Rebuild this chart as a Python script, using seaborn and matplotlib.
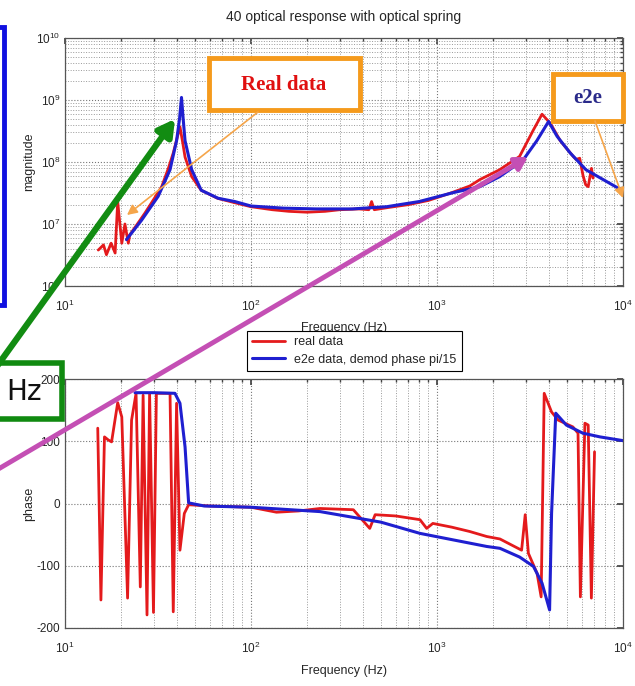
import numpy as np
import pandas as pd
import seaborn as sns
import matplotlib
matplotlib.use('Agg')
import matplotlib.pyplot as plt
from matplotlib.patches import Rectangle
from matplotlib.ticker import LogLocator, NullFormatter

# ---- magnitude, real data ----
mag_real_f = [15.1, 16.1, 16.7, 17.7, 18.6, 19.2, 20.2, 21.0, 21.9, 22.3, 24.5, 26.9, 30.0, 33.1,
              36.0, 38.2, 40.0, 41.5, 43.0, 44.2, 48, 54, 66, 82, 100, 130, 160, 200, 250, 300,
              380, 430, 445, 460, 550, 700, 900, 1200, 1500, 1700, 2170, 2780, 3300, 3670, 4070,
              4600, 5400, 5600, 5850, 6100, 6300, 6500, 6770, 6900]
mag_real = [3.8e6, 4.6e6, 3.2e6, 4.9e6, 3.4e6, 2.3e7, 4.9e6, 1.0e7, 4.9e6, 6.7e6, 1.0e7, 1.5e7,
            2.5e7, 4.0e7, 8.0e7, 1.4e8, 2.4e8, 3.7e8, 2.0e8, 1.2e8, 5.8e7, 3.5e7, 2.6e7, 2.2e7,
            1.9e7, 1.7e7, 1.6e7, 1.55e7, 1.6e7, 1.7e7, 1.75e7, 1.7e7, 2.3e7, 1.7e7, 1.85e7,
            2.05e7, 2.4e7, 3.2e7, 4.1e7, 5.2e7, 7.5e7, 1.23e8, 3.3e8, 5.9e8, 4.2e8, 2.2e8,
            1.23e8, 1.1e8, 1.15e8, 6.0e7, 4.3e7, 4.0e7, 7.9e7, 5.5e7]

# ---- magnitude, e2e ----
mag_e2e_f = [21.4, 25.8, 31.7, 36.7, 39.8, 41.3, 42.3, 43.3, 44.2, 48, 54, 66.6, 82, 100, 150,
             225, 350, 536, 800, 1220, 1700, 2170, 2900, 3440, 3980, 4420, 5200, 6320, 7830,
             9400, 10000]
mag_e2e = [5.6e6, 1.15e7, 2.8e7, 7.5e7, 2.2e8, 5.0e8, 1.1e9, 4.5e8, 2.2e8, 7.5e7, 3.5e7, 2.6e7,
           2.3e7, 1.95e7, 1.8e7, 1.75e7, 1.75e7, 1.9e7, 2.3e7, 3.2e7, 4.0e7, 5.8e7, 1.07e8,
           2.2e8, 4.5e8, 2.6e8, 1.4e8, 7.5e7, 5.2e7, 3.8e7, 3.5e7]

# ---- phase, real data ----
ph_real_f = [15.0, 15.6, 16.3, 17.1, 17.8, 19.2, 20.2, 21.7, 22.8, 24.1, 25.4, 26.3, 27.6, 28.5,
             29.9, 31.0, 36.7, 38.2, 39.8, 41.5, 43.8, 46.2, 60, 100, 137, 180, 235, 355, 435,
             465, 600, 810, 880, 950, 1200, 1500, 1850, 2180, 2850, 2980, 3100, 3450, 3630,
             3770, 4130, 4480, 5380, 5730, 5900, 6240, 6500, 6760, 7030]
ph_real = [121, -155, 107, 102, 99, 162, 139, -152, 134, 177, -134, 174, -179, 177, -175, 177,
           177, -174, 161, -75, -16, -2, -4, -6, -14, -12, -8, -10, -40, -18, -20, -26, -40,
           -32, -38, -45, -53, -57, -75, -18, -80, -112, -150, 177, 147, 134, 123, 113, -150,
           129, 126, -152, 83]

# ---- phase, e2e ----
ph_e2e_f = [23.8, 30, 39.0, 41.5, 44.2, 46.2, 56, 100, 235, 500, 810, 1850, 2180, 2780, 3300,
            3670, 4030, 4130, 4350, 4960, 6080, 7520, 10000]
ph_e2e = [178, 178, 177, 161, 91, 1, -4, -6, -13, -30, -48, -69, -72, -86, -101, -128, -171,
          -16, 145, 126, 113, 107, 101]

RED = '#e41a1c'
BLUE = '#1f1fd0'

sns.set_theme(style='white')
plt.rcParams['font.family'] = ['Liberation Sans', 'DejaVu Sans']

fig = plt.figure(figsize=(6.35, 6.86), dpi=100)
W, H = 635, 686


def px_axes(l, t, r, b):
    return fig.add_axes([l / W, 1 - b / H, (r - l) / W, (b - t) / H])


def style(ax):
    ax.set_xscale('log')
    ax.set_xlim(10, 1e4)
    ax.grid(which='major', linestyle=':', color='#777777', linewidth=0.8)
    ax.grid(which='minor', axis='x', linestyle=':', color='#999999', linewidth=0.7)
    ax.tick_params(direction='in', which='both', labelsize=8.5, color='#444444', top=True, right=True)
    ax.tick_params(which='major', length=4)
    ax.tick_params(which='minor', length=2)
    ax.tick_params(axis='x', which='major', pad=9)
    for s in ax.spines.values():
        s.set_color('#555555')
        s.set_linewidth(0.9)


ax1 = px_axes(65, 38, 623, 286)
ax1.set_yscale('log')
style(ax1)
ax1.grid(which='minor', axis='y', linestyle=':', color='#999999', linewidth=0.7)
ax1.yaxis.set_minor_locator(LogLocator(base=10, subs=np.arange(2, 10)))
ax1.yaxis.set_minor_formatter(NullFormatter())
sns.lineplot(x=mag_real_f, y=mag_real, ax=ax1, color=RED, linewidth=2, label='real data')
sns.lineplot(x=mag_e2e_f, y=mag_e2e, ax=ax1, color=BLUE, linewidth=2.2,
             label='e2e data, demod phase pi/15')
ax1.set_ylim(1e6, 1e10)
ax1.set_xlim(10, 1e4)
ax1.set_ylabel('magnitude', fontsize=9)
ax1.yaxis.set_label_coords(-0.053, 0.5)
ax1.set_xlabel('Frequency (Hz)', fontsize=9, labelpad=6)
ax1.set_title('40 optical response with optical spring', fontsize=10, pad=12)
handles, labels = ax1.get_legend_handles_labels()
ax1.get_legend().remove()

ax2 = px_axes(65, 379, 623, 628)
style(ax2)
sns.lineplot(x=ph_real_f, y=ph_real, ax=ax2, color=RED, linewidth=2)
sns.lineplot(x=ph_e2e_f, y=ph_e2e, ax=ax2, color=BLUE, linewidth=2.2)
ax2.set_ylim(-200, 200)
ax2.set_xlim(10, 1e4)
ax2.set_yticks([-200, -100, 0, 100, 200])
ax2.set_yticklabels(['-200', '-100', '0', '100', '200'])
ax2.set_ylabel('phase', fontsize=9)
ax2.yaxis.set_label_coords(-0.053, 0.5)
ax2.set_xlabel('Frequency (Hz)', fontsize=9, labelpad=7)

leg = fig.legend(handles, labels, loc='upper left', bbox_to_anchor=(247 / W, 1 - 331 / H),
                 fontsize=9, frameon=True, fancybox=False, edgecolor='black', framealpha=1,
                 borderpad=0.4, labelspacing=0.45, handlelength=2.6, borderaxespad=0)
leg.get_frame().set_linewidth(0.8)

# ---- slide annotations on top ----
ov = fig.add_axes([0, 0, 1, 1])
ov.set_xlim(0, W)
ov.set_ylim(H, 0)
ov.axis('off')

ov.add_patch(Rectangle((-20, 27), 24, 278, fill=False, edgecolor='#1010e0', linewidth=3.5))
ov.add_patch(Rectangle((-20, 363), 82, 56, fill=False, edgecolor='#108a10', linewidth=4))
ov.text(42, 392, 'Hz', fontsize=20, ha='right', va='center', color='#111111',
        family=['DejaVu Sans'])

ov.annotate('', xy=(175, 119), xytext=(-5, 369),
            arrowprops=dict(arrowstyle='-|>,head_length=0.8,head_width=0.45', color='#128c12',
                            lw=4.5, shrinkA=0, shrinkB=0))
ov.annotate('', xy=(528, 157), xytext=(-5, 471),
            arrowprops=dict(arrowstyle='-|>,head_length=0.6,head_width=0.35', color='#c44fb4',
                            lw=3.5, shrinkA=0, shrinkB=0))

ov.annotate('', xy=(127, 215), xytext=(258, 112),
            arrowprops=dict(arrowstyle='-|>,head_length=0.5,head_width=0.25', color='#f5a54a',
                            lw=1.2, shrinkA=0, shrinkB=0))
ov.annotate('', xy=(623, 198), xytext=(595, 121),
            arrowprops=dict(arrowstyle='-|>,head_length=0.5,head_width=0.25', color='#f5a54a',
                            lw=1.2, shrinkA=0, shrinkB=0))

ov.add_patch(Rectangle((209, 58), 151, 52, facecolor='white', edgecolor='#f59a1c', linewidth=3.5))
ov.text(284, 85, 'Real data', fontsize=15, fontweight='bold', color='#e01010', ha='center',
        va='center', family=['Liberation Serif', 'DejaVu Serif'])
ov.add_patch(Rectangle((553, 74), 70, 47, facecolor='white', edgecolor='#f59a1c', linewidth=3.5))
ov.text(588, 98, 'e2e', fontsize=15, fontweight='bold', color='#2a2a8a', ha='center',
        va='center', family=['Liberation Serif', 'DejaVu Serif'])

fig.savefig('out.png', dpi=100)
